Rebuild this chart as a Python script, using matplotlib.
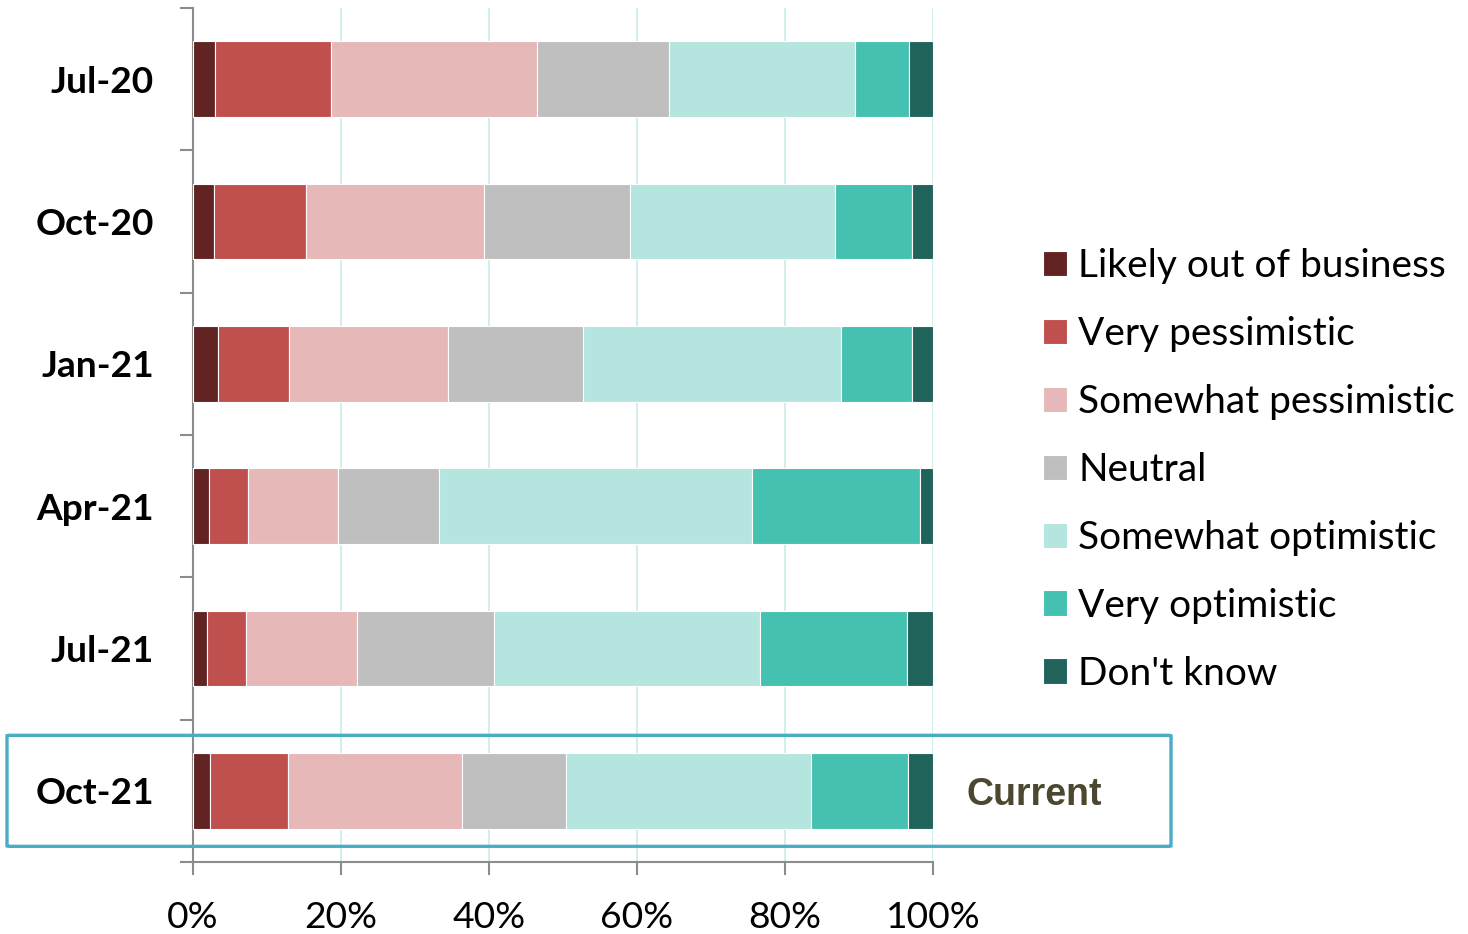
import matplotlib
matplotlib.use("Agg")
import matplotlib.pyplot as plt
import numpy as np
from matplotlib.patches import FancyBboxPatch
from matplotlib.transforms import blended_transform_factory
from matplotlib.ticker import FixedLocator, PercentFormatter

periods = ["Jul-20", "Oct-20", "Jan-21", "Apr-21", "Jul-21", "Oct-21"]
categories = ["Likely out of business", "Very pessimistic", "Somewhat pessimistic",
              "Neutral", "Somewhat optimistic", "Very optimistic", "Don't know"]
likely_out = [3.0, 2.8, 3.4, 2.1, 1.9, 2.3]
very_pess = [15.7, 12.5, 9.6, 5.3, 5.2, 10.6]
somewhat_pess = [27.8, 24.0, 21.5, 12.2, 15.1, 23.4]
neutral = [17.8, 19.8, 18.2, 13.6, 18.5, 14.1]
somewhat_opt = [25.1, 27.6, 34.9, 42.4, 35.9, 33.1]
very_opt = [7.4, 10.4, 9.6, 22.7, 19.9, 13.1]
dont_know = [3.2, 2.9, 2.8, 1.7, 3.5, 3.4]
colors = ["#622323", "#C0504D", "#E6B9B8", "#BFBFBF", "#B5E5DF", "#45C1B1", "#1F635B"]
xticks = [0, 20, 40, 60, 80, 100]
highlight_label = "Current"

series = [likely_out, very_pess, somewhat_pess, neutral, somewhat_opt, very_opt, dont_know]

plt.rcParams['font.family'] = ['Lato', 'DejaVu Sans']

fig = plt.figure(figsize=(14.68, 9.34), dpi=100)
ax = fig.add_axes([193/1468, 1-862/934, (933-193)/1468, (862-8)/934])

y = np.arange(len(periods))
left = np.zeros(len(periods))
for vals, col, lab in zip(series, colors, categories):
    v = np.array(vals)
    ax.barh(y, v, left=left, height=0.53, color=col, label=lab,
            edgecolor="white", linewidth=0.8, zorder=3)
    left += v

ax.set_xlim(0, 100)
ax.set_ylim(len(periods) - 0.5, -0.5)
ax.set_xticks(xticks)
ax.xaxis.set_major_formatter(PercentFormatter(decimals=0))
ax.set_yticks(y)
ax.set_yticklabels(periods, fontsize=26.7, fontweight='bold')
ax.yaxis.set_minor_locator(FixedLocator(np.arange(-0.5, len(periods), 1.0)))
ax.tick_params(axis='y', which='major', length=0, pad=28)
ax.tick_params(axis='y', which='minor', length=9.5, width=1.5, color='#8C8C8C')
ax.tick_params(axis='x', which='major', length=9, width=1.5, color='#8C8C8C',
               labelsize=26.8, pad=19)

for s in ['top', 'right']:
    ax.spines[s].set_visible(False)
for s in ['left', 'bottom']:
    ax.spines[s].set_color('#8C8C8C')
    ax.spines[s].set_linewidth(1.5)

ax.grid(axis='x', color='#C8EDE7', linewidth=1.2, zorder=0)
ax.set_axisbelow(True)

# highlight box around the current period
trans = blended_transform_factory(fig.transFigure, ax.transData)
idx = len(periods) - 1
box = FancyBboxPatch((7/1468, idx - 0.39), (1171-7)/1468, 0.78,
                     boxstyle="round,pad=0,rounding_size=0.003",
                     transform=trans, fill=False, edgecolor='#4BACC6',
                     linewidth=2.4, clip_on=False, zorder=5)
ax.add_patch(box)
ax.text(1034/1468, idx + 0.03, highlight_label, transform=trans, ha='center', va='center',
        fontsize=27, fontweight='bold', color='#4C4730',
        family=['Liberation Sans', 'DejaVu Sans'])

leg = fig.legend(loc='center left', bbox_to_anchor=(1043/1468, 1-470/934),
                 frameon=False, fontsize=28, handlelength=0.62, handleheight=0.62,
                 handletextpad=0.28, labelspacing=0.82, borderpad=0, borderaxespad=0)

fig.savefig("out.png", dpi=100)
